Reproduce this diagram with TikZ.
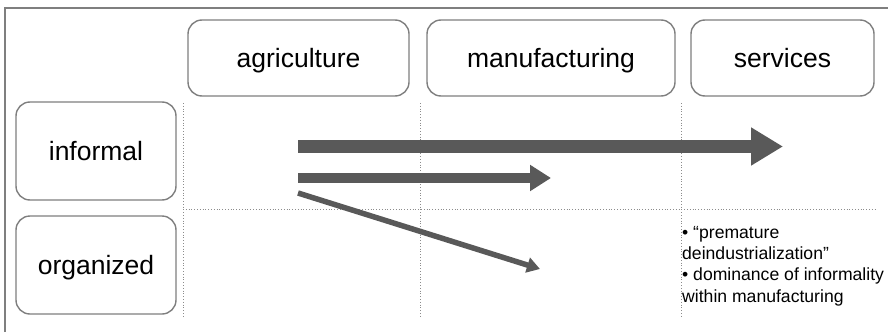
\documentclass[tikz,border=0pt]{standalone}
\usepackage{fontspec}
\setmainfont{Liberation Sans}
\usetikzlibrary{arrows.meta}
\definecolor{boxline}{HTML}{7F7F7F}
\definecolor{arrowcol}{HTML}{595959}
\definecolor{gridcol}{HTML}{8C8C8C}
\begin{document}
\begin{tikzpicture}[x=1pt,y=-1pt,
  catbox/.style={draw=boxline, line width=1.4pt, rounded corners=14pt, fill=white,
    font=\fontsize{26.5}{30}\selectfont, inner sep=0pt, text height=19pt, text depth=1pt},
  gridline/.style={draw=gridcol, line width=0.8pt, dotted},
  bigarrow/.style={draw=arrowcol, line width=13pt, -{Triangle[length=32pt,width=36pt]}},
  midarrow/.style={draw=arrowcol, line width=10pt, -{Triangle[length=21pt,width=25pt]}},
  thinarrow/.style={draw=arrowcol, line width=5.5pt, -{Triangle[length=13pt,width=15pt]}}]
\useasboundingbox (0,0) rectangle (888,332);
\fill[white] (0,0) rectangle (888,332);
% frame
\draw[draw=boxline, line width=2pt] (5,332) -- (5,7.5) -- (888,7.5);
% grid
\coordinate (v1t) at (183,103); \coordinate (v1b) at (183,318);
\coordinate (v2t) at (420,103); \coordinate (v2b) at (420,318);
\coordinate (v3t) at (681,103); \coordinate (v3b) at (681,318);
\coordinate (hl) at (183,209); \coordinate (hr) at (876,209);
\draw[gridline] (v1t) -- (v1b);
\draw[gridline] (v2t) -- (v2b);
\draw[gridline] (v3t) -- (v3b);
\draw[gridline] (hl) -- (hr);
% boxes
\node[catbox, minimum width=221pt, minimum height=76pt] (agri) at (298.5,58) {agriculture};
\node[catbox, minimum width=248pt, minimum height=76pt] (manu) at (551,58) {manufacturing};
\node[catbox, minimum width=183pt, minimum height=76pt] (serv) at (782.5,58) {services};
\node[catbox, minimum width=160pt, minimum height=98pt] (inf) at (96,151) {informal};
\node[catbox, minimum width=160pt, minimum height=98pt] (org) at (96,265) {organized};
% arrows
\coordinate (a1s) at (298,146.5); \coordinate (a1e) at (783,146.5);
\coordinate (a2s) at (298,178); \coordinate (a2e) at (551,178);
\coordinate (a3s) at (298,193); \coordinate (a3e) at (540,269);
\draw[bigarrow] (a1s) -- (a1e);
\draw[midarrow] (a2s) -- (a2e);
\draw[thinarrow] (a3s) -- (a3e);
% note
\node[anchor=north west, align=left, inner sep=0pt, font=\fontsize{17.6}{21.3}\selectfont] (note) at (682,226)
  {• “premature\\deindustrialization”\\• dominance of informality\\within manufacturing};
\end{tikzpicture}
\end{document}
